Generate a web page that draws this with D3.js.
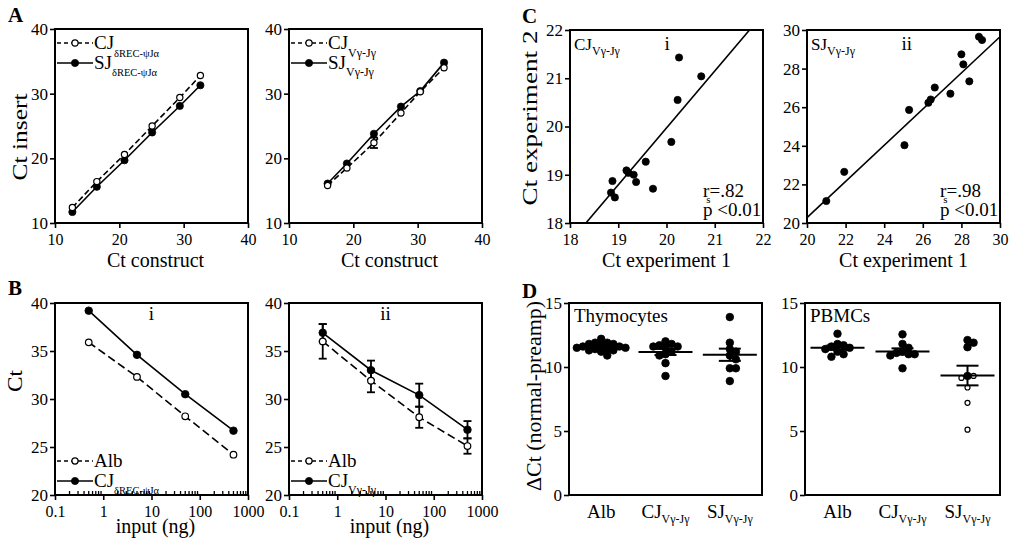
<!DOCTYPE html>
<html><head><meta charset="utf-8">
<script src="https://cdn.jsdelivr.net/npm/d3@7"></script>
<style>
html,body{margin:0;padding:0;background:#fff;}
svg{display:block;}
#fig text{font-family:"Liberation Serif","Times New Roman",Tinos,serif;}
</style></head><body>
<svg id="fig" width="1016" height="543"></svg>
<script>
// ---------- data ----------
// A: Ct of construct vs Ct of insert
const constructCtDrec = [12.7, 16.5, 20.8, 25.1, 29.4, 32.6];
const insertCtCJDrec  = [12.4, 16.4, 20.6, 25.0, 29.4, 32.8];
const insertCtSJDrec  = [11.7, 15.6, 19.7, 24.0, 28.1, 31.3];
const constructCtVg   = [16.0, 19.0, 23.2, 27.4, 30.4, 34.1];
const insertCtCJVg    = [15.8, 18.5, 22.4, 27.0, 30.3, 34.0];
const insertErrCJVg   = [0, 0, 0.8, 0, 0, 0];
const insertCtSJVg    = [16.1, 19.2, 23.8, 28.0, 30.4, 34.8];

// B: dilution series
const inputNg  = [0.5, 5, 50, 500];
const albCtI   = [35.9, 32.3, 28.2, 24.2];
const cjDrecCt = [39.2, 34.6, 30.5, 26.7];
const albCtII  = [36.0, 31.9, 28.1, 25.1];
const albSdII  = [1.8, 1.2, 1.1, 0.8];
const cjVgCt   = [36.9, 33.0, 30.4, 26.8];
const cjVgSd   = [0.9, 1.0, 1.2, 0.9];

// C: reproducibility between experiments
const cjExp1 = [20.26, 20.72, 20.23, 20.10, 19.57, 19.17, 19.21, 19.32, 19.37, 19.72, 18.88, 18.85, 18.93];
const cjExp2 = [21.43, 21.04, 20.55, 19.68, 19.27, 19.09, 19.04, 19.00, 18.85, 18.71, 18.87, 18.63, 18.53];
const sjExp1 = [21.0, 21.93, 25.05, 25.29, 26.29, 26.41, 26.62, 27.43, 28.0, 28.1, 28.41, 28.91, 29.07];
const sjExp2 = [21.14, 22.65, 24.03, 25.86, 26.23, 26.40, 27.02, 26.70, 28.74, 28.22, 27.34, 29.65, 29.48];
const fitSlope     = [1.18, 0.937];
const fitIntercept = [-3.63, 1.54];
const rsLabels     = [".82", ".98"];
const pLabel       = "p <0.01";

// D: delta Ct (normal - preamp)
const dCategories = ["Alb", "CJ", "SJ"];
const thymoAlb = [12.2, 11.9, 11.9, 11.8, 11.8, 11.7, 11.6, 11.6, 11.5, 11.5, 11.4, 11.4, 11.3, 11.3, 11.2, 10.9];
const thymoCJ  = [12.0, 11.8, 11.7, 11.6, 11.6, 11.5, 11.2, 11.0, 10.9, 10.3, 9.3];
const thymoSJ  = [13.9, 11.9, 11.4, 11.2, 10.9, 10.6, 9.9, 9.9, 8.9];
const pbmcAlb  = [12.6, 11.8, 11.7, 11.6, 11.5, 11.4, 11.2, 11.0, 10.8];
const pbmcCJ   = [12.55, 11.8, 11.5, 11.2, 11.1, 11.0, 11.0, 10.9, 9.9];
const pbmcSJ   = [12.1, 11.9, 11.55, 9.3, 9.3, 9.15, 8.4, 7.2, 5.1];
const pbmcSJOpen = [false, false, false, false, true, true, true, true, true];

// tick values
const ticksA   = [10, 20, 30, 40];
const ticksB   = [20, 25, 30, 35, 40];
const ticksLog = [0.1, 1, 10, 100, 1000];
const ticksC1  = [18, 19, 20, 21, 22];
const ticksC2  = [20, 22, 24, 26, 28, 30];
const ticksD   = [0, 5, 10, 15];

// ---------- drawing ----------
const FONT = '"Liberation Serif","Times New Roman",Tinos,serif';
const svg = d3.select("#fig").attr("font-family", FONT);
svg.append("rect").attr("width", 1016).attr("height", 543).attr("fill", "#fff");

const SUBV = "V\u03b3-J\u03b3";
const SUBD = "\u03b4REC-\u03c8J\u03b1";

function richText(g, x, y, parts, size, anchor) {
  const t = g.append("text").attr("x", x).attr("y", y)
    .attr("font-size", size).attr("fill", "#000")
    .attr("text-anchor", anchor || "start");
  let shift = 0;
  parts.forEach(p => {
    const s = t.append("tspan").text(p.t);
    const target = p.dy || 0;
    if (target !== shift) { s.attr("dy", target - shift); shift = target; }
    if (p.size) s.attr("font-size", p.size);
    if (p.dx) s.attr("dx", p.dx);
  });
  return t;
}

function styleAxis(ga, size) {
  ga.attr("font-family", FONT).attr("font-size", size || 16);
  ga.select(".domain").remove();
  ga.selectAll(".tick line").attr("stroke", "#000").attr("stroke-width", 1.6);
  ga.selectAll(".tick text").attr("fill", "#000");
}

function makePanel(box, xs, ys, o) {
  const g = svg.append("g").attr("transform", `translate(${box.x},${box.y})`);
  if (o.xTicks) {
    const ax = d3.axisBottom(xs).tickValues(o.xTicks).tickSize(5).tickPadding(6)
      .tickFormat(o.xFormat || d3.format("d"));
    styleAxis(g.append("g").attr("transform", `translate(0,${box.h})`).call(ax), 16);
  }
  const ay = d3.axisLeft(ys).tickValues(o.yTicks).tickSize(5).tickPadding(2).tickFormat(d3.format("d"));
  styleAxis(g.append("g").call(ay), 17);
  const id = "clip" + Math.round(box.x) + "_" + Math.round(box.y);
  g.append("clipPath").attr("id", id).append("rect").attr("width", box.w).attr("height", box.h);
  g.clip = `url(#${id})`;
  return g;
}

function frame(g, box) {
  g.append("rect").attr("width", box.w).attr("height", box.h)
    .attr("fill", "none").attr("stroke", "#000").attr("stroke-width", 2);
}

function dot(g, x, y, r, open) {
  g.append("circle").attr("cx", x).attr("cy", y).attr("r", r)
    .attr("fill", open ? "#fff" : "#000").attr("stroke", "#000")
    .attr("stroke-width", open ? 1.2 : 0.8);
}

function series(g, xs, ys, xv, yv, open, dash, r) {
  const pts = xv.map((v, i) => [xs(v), ys(yv[i])]);
  g.append("path").attr("d", d3.line()(pts)).attr("fill", "none")
    .attr("stroke", "#000").attr("stroke-width", 1.6)
    .attr("stroke-dasharray", dash || null);
  pts.forEach(p => dot(g, p[0], p[1], r, open));
}

function errorBars(g, xs, ys, xv, yv, ev, cap) {
  xv.forEach((v, i) => {
    if (!ev[i]) return;
    const x = xs(v), y1 = ys(yv[i] - ev[i]), y2 = ys(yv[i] + ev[i]);
    g.append("line").attr("x1", x).attr("x2", x).attr("y1", y1).attr("y2", y2)
      .attr("stroke", "#000").attr("stroke-width", 1.8);
    [y1, y2].forEach(yy => g.append("line").attr("x1", x - cap).attr("x2", x + cap)
      .attr("y1", yy).attr("y2", yy).attr("stroke", "#000").attr("stroke-width", 1.8));
  });
}

function legendRow(g, x, y, open, dash, parts, r) {
  g.append("line").attr("x1", x).attr("x2", x + 36).attr("y1", y).attr("y2", y)
    .attr("stroke", "#000").attr("stroke-width", 1.6).attr("stroke-dasharray", dash || null);
  dot(g, x + 18, y, r, open);
  richText(g, x + 37, y + 6, parts, 19);
}

function panelLetter(x, y, s) {
  svg.append("text").attr("x", x).attr("y", y).attr("font-size", 21)
    .attr("font-weight", "bold").attr("fill", "#000").text(s);
}

function yTitle(cx, cy, s, len) {
  const t = svg.append("text").attr("transform", `translate(${cx},${cy}) rotate(-90)`)
    .attr("text-anchor", "middle").attr("font-size", 20).attr("fill", "#000").text(s);
  if (len) t.attr("textLength", len).attr("lengthAdjust", "spacingAndGlyphs");
}

function xTitle(cx, y, s) {
  svg.append("text").attr("x", cx).attr("y", y).attr("text-anchor", "middle")
    .attr("font-size", 20).attr("fill", "#000").text(s);
}

// ----- Panel A -----
panelLetter(8, 22, "A");
[
  { box: { x: 55, y: 29, w: 193, h: 194 }, cx: constructCtDrec, cj: insertCtCJDrec, sj: insertCtSJDrec, err: null, sub: SUBD, subSize: 10.5 },
  { box: { x: 289, y: 29, w: 193, h: 194 }, cx: constructCtVg, cj: insertCtCJVg, sj: insertCtSJVg, err: insertErrCJVg, sub: SUBV, subSize: 12 }
].forEach(p => {
  const xs = d3.scaleLinear().domain([10, 40]).range([0, p.box.w]);
  const ys = d3.scaleLinear().domain([10, 40]).range([p.box.h, 0]);
  const g = makePanel(p.box, xs, ys, { xTicks: ticksA, yTicks: ticksA });
  if (p.err) errorBars(g, xs, ys, p.cx, p.cj, p.err, 4);
  series(g, xs, ys, p.cx, p.sj, false, null, 3.6);
  series(g, xs, ys, p.cx, p.cj, true, "6,3", 3.1);
  legendRow(g, 2, 14, true, "4,3", [{ t: "CJ" }, { t: p.sub, size: p.subSize, dy: 8 }], 3.1);
  legendRow(g, 2, 34, false, null, [{ t: "SJ" }, { t: p.sub, size: p.subSize, dy: 7 }], 3.6);
  frame(g, p.box);
  xTitle(p.box.x + p.box.w / 2 + 4, 267, "Ct construct");
});
yTitle(27, 137, "Ct insert", 87);

// ----- Panel B -----
panelLetter(8, 295, "B");
[
  { box: { x: 55, y: 303, w: 193, h: 192 }, alb: albCtI, albSd: null, cj: cjDrecCt, cjSd: null, roman: "i", sub: SUBD, subSize: 10.5 },
  { box: { x: 289, y: 303, w: 193, h: 192 }, alb: albCtII, albSd: albSdII, cj: cjVgCt, cjSd: cjVgSd, roman: "ii", sub: SUBV, subSize: 12 }
].forEach(p => {
  const xs = d3.scaleLog().domain([0.1, 1000]).range([0, p.box.w]);
  const ys = d3.scaleLinear().domain([20, 40]).range([p.box.h, 0]);
  const g = makePanel(p.box, xs, ys, {
    xTicks: ticksLog, yTicks: ticksB,
    xFormat: d => d < 1 ? "0.1" : d3.format("d")(d)
  });
  // minor log ticks point inward
  xs.ticks().filter(v => !ticksLog.some(m => Math.abs(m - v) < 1e-9)).forEach(v => {
    g.append("line").attr("x1", xs(v)).attr("x2", xs(v)).attr("y1", p.box.h).attr("y2", p.box.h - 4)
      .attr("stroke", "#000").attr("stroke-width", 1.3);
  });
  if (p.albSd) errorBars(g, xs, ys, inputNg, p.alb, p.albSd, 4);
  if (p.cjSd) errorBars(g, xs, ys, inputNg, p.cj, p.cjSd, 4);
  series(g, xs, ys, inputNg, p.alb, true, "8,4", 3.3);
  series(g, xs, ys, inputNg, p.cj, false, null, 3.8);
  legendRow(g, 2, 158, true, "4,3", [{ t: "Alb" }], 3.1);
  legendRow(g, 2, 178, false, null, [{ t: "CJ" }, { t: p.sub, size: p.subSize, dy: 7 }], 3.6);
  g.append("text").attr("x", p.box.w / 2).attr("y", 17).attr("text-anchor", "middle")
    .attr("font-size", 19).attr("fill", "#000").text(p.roman);
  frame(g, p.box);
  xTitle(p.box.x + p.box.w / 2 + 4, 533, "input (ng)");
});
yTitle(22, 381, "Ct", 22);

// ----- Panel C -----
panelLetter(522, 23, "C");
[
  { box: { x: 570, y: 30, w: 193, h: 193 }, dom: [18, 22], ticks: ticksC1, ex1: cjExp1, ex2: cjExp2, k: 0, name: "CJ", roman: "i" },
  { box: { x: 807, y: 30, w: 193, h: 193 }, dom: [20, 30], ticks: ticksC2, ex1: sjExp1, ex2: sjExp2, k: 1, name: "SJ", roman: "ii" }
].forEach(p => {
  const xs = d3.scaleLinear().domain(p.dom).range([0, p.box.w]);
  const ys = d3.scaleLinear().domain(p.dom).range([p.box.h, 0]);
  const g = makePanel(p.box, xs, ys, { xTicks: p.ticks, yTicks: p.ticks });
  const f = v => fitSlope[p.k] * v + fitIntercept[p.k];
  g.append("line").attr("clip-path", g.clip)
    .attr("x1", xs(p.dom[0])).attr("y1", ys(f(p.dom[0])))
    .attr("x2", xs(p.dom[1])).attr("y2", ys(f(p.dom[1])))
    .attr("stroke", "#000").attr("stroke-width", 1.6);
  p.ex1.forEach((v, i) => dot(g, xs(v), ys(p.ex2[i]), 3.6, false));
  richText(g, 4, 20, [{ t: p.name }, { t: SUBV, size: 12, dy: 5 }], 17);
  g.append("text").attr("x", p.box.w * 0.49).attr("y", 20).attr("font-size", 19)
    .attr("fill", "#000").text(p.roman);
  richText(g, p.box.w - 60, 167, [{ t: "r" }, { t: "s", size: 11, dy: 6, dx: -3 }, { t: "=" + rsLabels[p.k], dy: 0, dx: -1 }], 19);
  g.append("text").attr("x", p.box.w - 60).attr("y", 186).attr("font-size", 19)
    .attr("fill", "#000").text(pLabel);
  frame(g, p.box);
  xTitle(p.box.x + p.box.w / 2, 267, "Ct experiment 1");
});
yTitle(537, 118, "Ct experiment 2", 175);

// ----- Panel D -----
panelLetter(522, 298, "D");

// simple beeswarm: each dot takes the nearest free column offset
function swarmOffsets(values, r, ys) {
  const order = d3.range(values.length).sort((a, b) => values[b] - values[a]);
  const out = new Array(values.length);
  const placed = [];
  const step = r * 1.6;
  order.forEach(i => {
    const y = ys(values[i]);
    for (let k = 0; k < 60; k++) {
      const off = k === 0 ? 0 : (k % 2 ? 1 : -1) * Math.ceil(k / 2) * step;
      if (placed.every(q => Math.hypot(q.x - off, q.y - y) >= 2 * r * 0.8)) {
        out[i] = off; placed.push({ x: off, y }); break;
      }
    }
  });
  return out;
}

[
  { box: { x: 569, y: 303, w: 193, h: 192 }, groups: [thymoAlb, thymoCJ, thymoSJ], open: [null, null, null], name: "Thymocytes" },
  { box: { x: 805, y: 303, w: 195, h: 192 }, groups: [pbmcAlb, pbmcCJ, pbmcSJ], open: [null, null, pbmcSJOpen], name: "PBMCs" }
].forEach(p => {
  const xs = d3.scalePoint().domain(dCategories).range([0, p.box.w]).padding(0.5);
  const ys = d3.scaleLinear().domain([0, 15]).range([p.box.h, 0]);
  const g = makePanel(p.box, xs, ys, { yTicks: ticksD });
  p.groups.forEach((vals, gi) => {
    const cx = xs(dCategories[gi]);
    const offs = swarmOffsets(vals, 3.8, ys);
    vals.forEach((v, i) => {
      const isOpen = p.open[gi] && p.open[gi][i];
      dot(g, cx + offs[i], ys(v), isOpen ? 2.5 : 3.8, isOpen);
    });
    const m = d3.mean(vals);
    const sem = d3.deviation(vals) / Math.sqrt(vals.length);
    const ln = (x1, x2, y1, y2) => g.append("line").attr("x1", x1).attr("x2", x2)
      .attr("y1", y1).attr("y2", y2).attr("stroke", "#000").attr("stroke-width", 2);
    ln(cx - 27, cx + 27, ys(m), ys(m));
    ln(cx, cx, ys(m + sem), ys(m - sem));
    ln(cx - 11, cx + 11, ys(m + sem), ys(m + sem));
    ln(cx - 11, cx + 11, ys(m - sem), ys(m - sem));
    // category label
    const parts = gi === 0 ? [{ t: "Alb" }] : [{ t: dCategories[gi] }, { t: SUBV, size: 12, dy: 5 }];
    richText(svg, p.box.x + cx, 518, parts, 19, "middle");
  });
  g.append("text").attr("x", 5).attr("y", 19).attr("font-size", 19)
    .attr("fill", "#000").text(p.name);
  frame(g, p.box);
});
yTitle(541, 396, "\u0394Ct (normal-preamp)", 190);
</script>
</body></html>
